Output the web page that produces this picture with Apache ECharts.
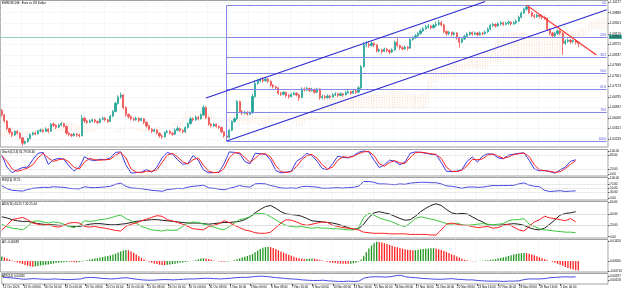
<!DOCTYPE html>
<html>
<head>
<meta charset="utf-8">
<script src="https://cdn.jsdelivr.net/npm/echarts@6/dist/echarts.min.js"></script>
<style>
html,body{margin:0;padding:0;background:#fff}
#main{width:625px;height:290px}
</style>
</head>
<body>
<div id="main"></div>
<script>
// EURUSD H4, 12 Oct - 4 Dec 2023. Prices are written in pips above 1.0000 (628 = 1.0628)
var days = ['12 Oct','13 Oct','16 Oct','17 Oct','18 Oct','19 Oct','20 Oct','23 Oct','24 Oct','25 Oct','26 Oct','27 Oct','30 Oct','31 Oct',
  '1 Nov','2 Nov','3 Nov','6 Nov','7 Nov','8 Nov','9 Nov','10 Nov','13 Nov','14 Nov','15 Nov','16 Nov','17 Nov','20 Nov','21 Nov','22 Nov',
  '23 Nov','24 Nov','27 Nov','28 Nov','29 Nov','30 Nov','1 Dec','4 Dec','5 Dec','6 Dec'];
var hours = ['00:00','04:00','08:00','12:00','16:00','20:00'];

// [open, close, low, high]
var candles = [
[628,612,606,634],[612,590,584,616],[590,562,555,593],[562,548,540,566],[548,538,530,551],[538,552,535,556],[552,545,540,556],[545,528,522,548],[528,508,498,530],[508,514,503,518],
[514,525,510,528],[525,540,522,544],[540,546,536,550],[546,542,537,551],[542,553,540,557],[553,556,548,562],[556,551,546,559],[551,560,549,566],[560,552,545,563],[552,578,550,583],
[578,574,568,585],[574,567,560,578],[567,575,565,580],[575,580,571,586],[580,570,566,584],[570,545,539,573],[545,540,533,550],[540,536,530,544],[536,542,532,547],[542,538,531,545],
[538,535,529,543],[535,600,533,612],[600,590,583,606],[590,585,578,595],[585,590,582,596],[590,594,585,600],[594,588,582,598],[588,584,578,592],[584,596,582,601],[596,600,592,606],
[600,594,588,605],[594,588,582,598],[588,608,586,612],[608,625,604,630],[625,655,622,660],[655,678,650,685],[678,686,672,695],[686,640,632,688],[640,614,606,644],[614,606,598,618],
[606,598,592,610],[598,595,588,603],[595,600,590,606],[600,592,586,604],[592,598,589,603],[598,585,578,601],[585,572,565,588],[572,560,554,575],[560,552,545,563],[552,557,548,562],
[557,545,540,560],[545,535,528,548],[535,532,524,540],[532,548,528,552],[548,552,544,558],[552,545,540,556],[545,541,535,549],[541,556,538,562],[556,562,552,570],[562,555,550,566],
[555,550,544,560],[550,566,546,570],[566,580,562,585],[580,598,576,605],[598,594,588,603],[594,603,590,610],[603,598,592,608],[598,612,595,618],[612,640,608,648],[640,602,598,644],
[602,578,572,606],[578,572,566,582],[572,578,568,583],[578,570,565,581],[570,566,560,574],[566,550,544,569],[550,535,528,552],[535,530,516,538],[530,556,526,560],[556,588,552,592],
[588,598,584,604],[598,662,594,667],[662,625,620,665],[625,618,612,630],[618,622,614,628],[622,615,610,626],[615,620,612,626],[620,680,616,690],[680,728,676,740],[728,738,724,746],
[738,742,732,750],[742,738,732,752],[738,744,735,750],[744,736,730,748],[736,722,716,740],[722,716,710,726],[716,712,706,720],[712,692,686,714],[692,688,682,698],[688,696,684,700],
[696,684,676,698],[684,680,672,690],[680,688,676,694],[688,692,684,698],[692,686,680,696],[686,676,664,690],[676,708,674,714],[708,704,698,714],[704,710,700,716],[710,702,696,712],
[702,706,698,712],[706,696,690,710],[696,708,692,712],[708,676,668,710],[676,680,670,688],[680,676,670,686],[676,682,672,688],[682,678,672,686],[678,686,676,692],[686,690,682,696],
[690,684,678,694],[684,690,682,696],[690,686,680,694],[686,694,684,700],[694,698,690,704],[698,692,686,702],[692,700,690,705],[700,696,690,704],[696,712,694,718],[712,790,708,796],
[790,870,786,880],[870,872,862,884],[872,868,860,880],[868,876,864,882],[876,870,862,880],[870,848,842,874],[848,852,842,858],[852,846,838,856],[846,855,844,860],[855,850,843,858],
[850,844,836,854],[844,852,840,858],[852,880,848,886],[880,868,862,895],[868,860,852,872],[860,856,850,866],[856,862,852,868],[862,858,850,866],[858,890,856,894],[890,896,886,902],
[896,904,892,910],[904,912,900,918],[912,922,908,928],[922,930,918,936],[930,936,926,944],[936,940,930,948],[940,934,928,944],[934,942,930,948],[942,946,936,956],[946,952,940,962],
[952,944,938,958],[944,920,914,948],[920,912,904,924],[912,916,906,922],[916,910,902,920],[910,914,904,920],[914,896,890,918],[896,880,860,900],[880,892,876,896],[892,902,888,908],
[902,910,898,916],[910,916,904,920],[916,910,904,920],[910,914,906,920],[914,908,902,918],[908,914,904,920],[914,912,906,918],[912,918,908,924],[918,928,914,934],[928,942,924,948],
[942,946,936,952],[946,940,934,950],[940,948,938,954],[948,952,942,958],[952,946,940,956],[946,950,942,956],[950,954,944,960],[954,948,942,958],[948,952,944,958],[952,958,946,964],
[958,972,954,978],[972,988,968,994],[988,1002,984,1008],[1002,1010,996,1017],[1010,990,984,1012],[990,978,972,994],[978,974,968,984],[974,980,970,986],[980,976,968,984],[976,972,964,982],
[972,968,962,978],[968,928,922,972],[928,914,906,932],[914,904,896,918],[904,912,898,918],[912,922,908,928],[922,914,906,926],[914,876,834,916],[876,884,870,890],[884,888,878,894],
[888,882,874,892],[882,886,876,890],[886,880,872,890],[880,876,862,884]
];

// Ichimoku cloud, one value per slot (already shifted 26 bars forward)
var senkouA = [528,528,530,530,532,534,536,538,540,542,544,548,552,556,560,564,568,570,572,575,578,580,582,583,583,583,
583,582,580,576,573,572,572,570,567,562,557,552,548,548,548,549,550,551,553,560,565,565,566,566,567,565,558,552,550,550,
550,556,563,563,564,566,568,570,570,571,581,582,583,592,607,618,625,625,625,625,626,626,627,627,626,618,609,603,598,596,
595,590,586,584,583,580,576,577,578,578,578,580,583,576,570,571,572,580,591,593,595,596,596,596,595,591,587,579,571,571,
571,582,592,592,592,593,594,630,660,668,674,676,677,678,678,680,682,682,682,681,680,679,678,678,679,680,682,684,685,685,
685,686,687,695,700,700,700,699,698,695,692,689,686,688,689,690,690,692,694,736,776,778,779,780,781,782,782,794,806,812,
818,818,819,822,825,826,826,826,827,832,838,844,849,855,861,880,897,904,911,914,917,916,916,915,915,914,913,910,907,903,
899,898,898,899,900,902,904,908,913,916,919,919,919,920,921,922,923,925,928,933,938,946,954,960,966,968,970,971,972];
var senkouB = [552,552,552,552,552,552,552,552,552,552,552,552,552,552,552,552,552,552,552,552,552,552,552,552,552,552,
548,548,548,548,548,548,548,548,548,548,548,548,548,548,548,550,550,550,550,550,550,562,562,562,562,562,562,562,562,562,562,562,562,
569,569,569,569,569,569,569,569,569,569,569,569,592,597,597,597,597,597,597,597,597,597,597,597,597,597,597,599,602,608,
610,610,610,610,610,610,610,610,610,610,610,610,610,610,610,610,610,610,610,610,610,610,610,610,
606,606,606,606,606,606,606,606,606,606,606,628,631,633,
634,634,634,634,634,634,634,634,634,634,634,634,634,634,634,634,634,634,634,634,634,634,634,634,634,634,634,634,634,634,634,634,634,634,634,634,634,634,
661,716,734,737,747,747,747,747,747,747,750,774,774,774,780,780,780,780,780,780,780,780,780,780,800,804,806,806,806,810,
813,813,813,813,813,813,816,816,816,816,816,816,816,816,816,816,816,816,826,826,828,835,874,
899,899,899,899,899,899,899,899,907,915,922,926,926,926,926,926,926];

// oscillators, one value every second bar
var stochK = [83,30,6,18,28,30,62,90,94,42,62,68,64,35,13,30,75,62,58,64,62,70,94,96,40,4,6,8,20,8,
  30,70,94,86,62,42,46,80,60,18,5,6,8,45,96,94,88,55,44,90,88,86,60,15,5,8,12,55,70,90,
  80,55,24,18,45,78,72,70,80,94,100,96,60,28,40,60,56,40,52,90,96,94,90,86,84,50,12,10,12,20,
  55,74,52,78,88,86,70,66,82,86,90,92,60,22,14,15,10,4,18,30,55,62];
var stochD = [78,55,22,12,18,26,40,70,90,70,55,62,66,52,28,22,52,68,62,60,62,64,82,94,70,22,8,6,12,12,
  18,50,82,90,74,52,44,62,70,38,12,6,7,24,70,92,92,72,50,68,88,87,74,36,10,7,10,32,62,80,
  85,68,40,22,30,60,75,72,76,88,96,98,80,45,34,50,58,48,46,72,92,95,92,88,85,68,30,12,11,16,
  36,64,62,66,82,87,78,68,74,84,88,91,76,40,18,14,12,7,10,24,42,58];
var rsi = [63,48,40,38,36,44,50,52,55,54,58,56,55,50,48,47,58,54,53,55,57,60,70,76,60,52,50,48,44,40,
  38,35,44,46,50,48,56,60,62,66,52,50,46,42,50,56,64,58,56,72,74,72,64,58,52,50,52,50,58,60,
  58,56,50,50,52,53,51,54,55,60,84,84,80,72,72,70,68,72,70,76,78,80,80,78,78,72,62,60,56,50,
  56,57,55,56,60,64,63,64,64,65,72,77,66,60,58,40,34,36,38,34,36,37];
var adx = [35,33,30,28,27,27,25,23,22,21,21,20,20,19,18,18,20,22,23,23,22,21,21,22,23,25,27,28,29,30,
  30,29,28,27,26,25,24,24,24,23,22,23,24,25,25,26,27,30,35,42,48,53,55,50,44,40,39,38,36,32,
  28,27,26,25,24,22,19,16,13,14,22,34,42,44,42,40,36,32,29,30,36,44,50,55,58,55,48,42,40,41,
  40,35,30,26,21,20,20,21,22,23,22,20,16,13,12,15,22,30,38,41,42,44];
var plusDI = [22,18,15,14,12,18,27,28,26,24,26,25,22,18,16,20,28,27,28,30,31,33,36,38,32,28,24,18,15,12,
  11,10,12,11,12,18,24,26,25,22,20,17,14,12,18,24,30,32,35,40,41,40,35,30,24,20,18,17,18,16,
  15,16,15,15,14,14,13,12,12,16,34,41,38,33,30,28,24,20,18,24,32,35,33,31,29,26,23,22,24,21,
  20,21,22,23,22,21,22,23,28,30,30,32,22,18,14,12,11,10,9,8,8,7];
var minusDI = [12,20,30,32,34,30,24,22,20,22,18,17,20,24,25,24,18,17,18,16,15,13,11,10,18,22,24,28,31,34,
  37,36,30,28,25,22,18,14,13,12,18,20,23,28,25,20,16,12,10,7,6,6,8,16,24,30,29,26,22,20,
  22,24,26,25,20,18,16,15,14,12,8,7,6,6,6,5,5,5,5,4,4,4,4,3,3,12,22,24,22,20,
  20,18,16,17,18,15,16,20,22,17,12,10,18,26,30,36,33,32,30,28,32,26];
var atr = [26,25,24,22,20,21,22,21,20,20,21,20,19,19,20,21,25,26,25,23,22,21,22,24,25,22,20,18,17,17,
  18,19,19,18,19,20,21,21,22,23,23,22,21,22,23,25,26,26,27,29,30,29,27,25,24,22,21,20,18,17,
  16,16,17,15,14,13,13,14,13,14,24,27,28,28,27,28,31,33,28,26,25,23,22,21,20,20,21,22,20,19,
  18,18,16,15,14,14,14,13,14,14,15,19,21,21,21,22,25,26,27,28,27,28];
// Awesome Oscillator, one value per bar (pips)
var ao = [32,26,18,10,4,-4,-10,-16,-22,-28,-33,-38,-40,-38,-35,-32,-30,-27,-24,-21,-18,-15,-12,-10,-8,-6,
  -5,-6,-8,-9,-7,-4,2,6,10,14,18,20,24,28,32,36,40,46,52,60,68,74,78,76,68,58,46,34,22,10,
  2,-6,-12,-18,-22,-26,-28,-28,-27,-25,-22,-19,-16,-13,-10,-7,-4,-1,2,6,12,17,19,18,14,9,4,
  0,-3,-5,-6,-4,-2,0,6,12,18,24,30,36,42,50,62,74,86,94,99,101,98,92,85,76,68,60,52,44,37,30,24,19,
  16,15,16,17,18,16,12,8,4,-2,-6,-10,-13,-15,-17,-18,-19,-20,-20,-19,-16,-12,-4,10,34,62,88,110,126,137,
  135,131,126,120,114,108,102,97,92,88,84,80,78,76,77,79,82,85,87,89,90,91,89,
  84,78,71,64,56,48,40,32,24,16,8,4,1,-1,-2,-1,1,2,4,6,8,10,13,17,21,26,31,36,41,46,50,53,55,
  56,55,52,47,41,34,27,20,13,6,0,-6,-13,-20,-27,-34,-42,-50,-56,-61,-65,-68];

var priceTicks = [1.05233,1.05621,1.06009,1.06397,1.06785,1.07173,1.07561,1.07949,1.08337,1.08725,1.09113,1.09501,1.09889,1.10277];
var stochTicks = [100,80,20,0];
var rsiTicks = [100,70,50,30,0];
var adxTicks = [60,40,20,0];
var aoTicks = [0.0142,0,-0.0071];
var atrTicks = [0.00297,0.00158];

var bidPrice = 1.0876;
var fibLevels = ['0.0','23.6','38.2','50.0','61.8','78.6','100.0'];
var fibPrices = [1.1017,1.0899,1.0826,1.0767,1.0707,1.0623,1.0516];
var fibStart = 87, fibEnd = 234;
var channelUpper = [[79,1.0675],[187,1.1030]];
var channelLower = [[87,1.0516],[234,1.1000]];
var downTrend = [[203,1.1017],[230,1.0833]];

var SLOTS = 235, STEP = 2;
var FONT = 'Liberation Sans';

var categories = [];
for (var s = 0; s < SLOTS; s++) categories.push(days[Math.floor(s / 6)] + ' ' + hours[s % 6]);
categories[0] = '12 Oct 2023';

function px(v) { return 1 + v / 10000; }
function every(arr) { return arr.map(function (v, k) { return [k * STEP, v]; }); }

var ohlc = candles.map(function (c) { return c.map(px); });
var cloud = senkouA.map(function (a, k) { return [k, px(a), px(senkouB[k])]; });
var aoBars = ao.map(function (v, k) {
  var up = k === 0 || v > ao[k - 1];
  return { value: v / 10000, itemStyle: { color: up ? '#1e961e' : '#ff2020' } };
});
var atrLine = atr.map(function (v, k) { return [k * STEP, v / 10000]; });

function showLabel(index) { return index % 8 === 0 && index < candles.length; }

var gridBoxes = [[0.5,146.5],[149.5,26.5],[177.5,22.5],[201.5,36.5],[239.5,32.5],[273.5,10.5]];
var grids = gridBoxes.map(function (g) {
  return { left: 0.5, right: 17, top: g[0], height: g[1], show: true, borderColor: '#a0a0a0', borderWidth: 1 };
});

var xAxes = gridBoxes.map(function (g, k) {
  var last = k === gridBoxes.length - 1;
  return {
    type: 'category', gridIndex: k, data: categories,
    axisLine: { show: false },
    axisTick: { show: last, alignWithLabel: true, interval: showLabel, length: 2, lineStyle: { color: '#000', width: 0.6 } },
    axisLabel: { show: last, interval: showLabel, align: 'left', margin: 2, fontSize: 3, color: '#000', fontFamily: FONT },
    splitLine: { show: true, interval: showLabel, lineStyle: { color: '#e6e6e6', type: 'dotted', width: 0.6 } }
  };
});

function yAxis(k, min, max, ticks, fmt, grid) {
  return {
    type: 'value', gridIndex: k, position: 'right', min: min, max: max, scale: true,
    axisLine: { show: false },
    axisTick: { show: true, customValues: ticks, length: 1.5, lineStyle: { color: '#000', width: 0.6 } },
    axisLabel: { customValues: ticks, formatter: fmt, margin: 2, fontSize: 3, color: '#000', fontFamily: FONT },
    splitLine: { show: grid, lineStyle: { color: '#e6e6e6', type: 'dotted', width: 0.6 } }
  };
}
function f2(v) { return v.toFixed(2); }
function f5(v) { return v.toFixed(5); }

var yAxes = [
  yAxis(0, 1.0494, 1.1034, priceTicks, f5, true),
  yAxis(1, -8.7, 106.5, stochTicks, f2, false),
  yAxis(2, -8.5, 104, rsiTicks, f2, false),
  yAxis(3, -2.3, 62, adxTicks, f2, false),
  yAxis(4, -0.0078, 0.01526, aoTicks, f5, false),
  yAxis(5, 0.00048, 0.00384, atrTicks, f5, false)
];

var fibColor = '#8787e6';
var marks = [{
  yAxis: bidPrice,
  lineStyle: { color: '#92d0c6', width: 1, type: 'solid' },
  label: { show: true, position: 'end', distance: 1, formatter: bidPrice.toFixed(5), backgroundColor: '#3aa996',
    color: '#000', fontSize: 3, fontFamily: FONT, padding: [0.6, 1] }
}];
fibPrices.forEach(function (p, k) {
  marks.push([{ coord: [fibStart, p], lineStyle: { color: fibColor, width: 1, type: 'solid' },
    label: { show: true, position: 'insideEndTop', distance: 0.5, formatter: fibLevels[k], color: '#4b4bd6', fontSize: 3, fontFamily: FONT } },
    { coord: [fibEnd, p] }]);
});
marks.push([{ coord: [fibStart, fibPrices[0]], lineStyle: { color: fibColor, width: 1, type: 'solid' } }, { coord: [fibStart, fibPrices[6]] }]);
[channelUpper, channelLower].forEach(function (ln) {
  marks.push([{ coord: ln[0], lineStyle: { color: '#2a2ad2', width: 1.1, type: 'solid' } }, { coord: ln[1] }]);
});
marks.push([{ coord: downTrend[0], lineStyle: { color: '#ff2626', width: 1.1, type: 'solid' } }, { coord: downTrend[1] }]);

function levels(vals, color, type) {
  return { symbol: ['none', 'none'], silent: true, label: { show: false },
    lineStyle: { color: color, type: type, width: 0.7 }, data: vals.map(function (v) { return { yAxis: v }; }) };
}
function line(name, data, k, color, extra) {
  var sr = { name: name, type: 'line', xAxisIndex: k, yAxisIndex: k, data: data, showSymbol: false, symbol: 'none',
    lineStyle: { color: color, width: 1 }, z: 3 };
  if (extra) sr.markLine = extra;
  return sr;
}

var titles = [
  ['EURUSD,H4:  Euro vs US Dollar', 1.5],
  ['Stoch(5,3,3) 61.79 58.40', 150.8],
  ['RSI(14) 37.21', 178.6],
  ['ADX(14) 44.25 7.30 25.44', 202.6],
  ['AO -0.00683', 240.6],
  ['ATR(14) 0.00280', 274.4]
].map(function (t) {
  return { text: t[0], left: 2, top: t[1], padding: 0, textStyle: { fontSize: 3, fontWeight: 'normal', color: '#000', fontFamily: FONT } };
});

var chart = echarts.init(document.getElementById('main'));
chart.setOption({
  animation: false,
  backgroundColor: '#fff',
  textStyle: { fontFamily: FONT },
  title: titles,
  grid: grids,
  xAxis: xAxes,
  yAxis: yAxes,
  series: [
    {
      type: 'custom', name: 'Kumo', xAxisIndex: 0, yAxisIndex: 0, data: cloud, z: 1, clip: true,
      encode: { x: 0, y: [1, 2] },
      renderItem: function (params, api) {
        var a = api.coord([api.value(0), api.value(1)]);
        var b = api.coord([api.value(0), api.value(2)]);
        return { type: 'line', shape: { x1: a[0], y1: a[1], x2: a[0], y2: b[1] },
          style: { stroke: '#f3b487', lineWidth: 0.8, lineDash: [0.9, 0.9], opacity: 0.6 } };
      }
    },
    {
      type: 'candlestick', name: 'EURUSD', xAxisIndex: 0, yAxisIndex: 0, data: ohlc, barWidth: 1.7, z: 3,
      itemStyle: { color: '#26a69a', color0: '#ef5350', borderColor: '#26a69a', borderColor0: '#ef5350', borderWidth: 0.8 },
      markLine: { symbol: ['none', 'none'], silent: true, label: { show: false }, data: marks }
    },
    line('Main', every(stochK), 1, '#3b3be6', levels([80, 20], '#c4c4c4', 'dotted')),
    line('Signal', every(stochD), 1, '#ff2020'),
    line('RSI', every(rsi), 2, '#4a4ae2', levels([70, 50, 30], '#c4c4c4', 'dotted')),
    line('ADX', every(adx), 3, '#1e1e1e', levels([40, 20], '#d0d0d0', 'solid')),
    line('+DI', every(plusDI), 3, '#3cc83c'),
    line('-DI', every(minusDI), 3, '#ff2020'),
    { type: 'bar', name: 'AO', xAxisIndex: 4, yAxisIndex: 4, data: aoBars, barWidth: 1.3 },
    line('ATR', atrLine, 5, '#4a4ae2')
  ]
});
</script>
</body>
</html>
